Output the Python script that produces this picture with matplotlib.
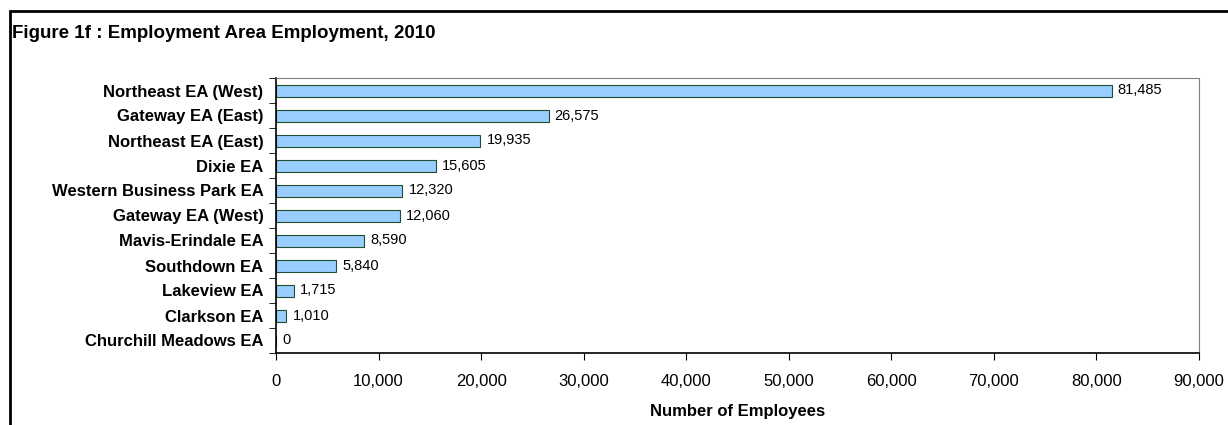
import matplotlib
matplotlib.use('Agg')
import matplotlib.pyplot as plt
from matplotlib.patches import Rectangle
from matplotlib.ticker import FuncFormatter

plt.rcParams['font.family'] = ['Liberation Sans', 'DejaVu Sans']

areas = ['Northeast EA (West)', 'Gateway EA (East)', 'Northeast EA (East)', 'Dixie EA',
         'Western Business Park EA', 'Gateway EA (West)', 'Mavis-Erindale EA', 'Southdown EA',
         'Lakeview EA', 'Clarkson EA', 'Churchill Meadows EA']
employees = [81485, 26575, 19935, 15605, 12320, 12060, 8590, 5840, 1715, 1010, 0]

fig = plt.figure(figsize=(12.28, 4.25), dpi=100)
# outer chart border (top and left visible)
fig.patches.append(Rectangle((10 / 1228, -0.1), 1.2, (425 - 11) / 425 + 0.1,
                             transform=fig.transFigure, fill=False, edgecolor='black', lw=2))
fig.text(12 / 1228, 1 - 34 / 425, 'Figure 1f : Employment Area Employment, 2010',
         fontsize=13.5, fontweight='bold', va='center', ha='left')

ax = fig.add_axes([276 / 1228, 1 - 353 / 425, (1199 - 276) / 1228, (353 - 78) / 425])
y = list(range(len(areas)))
ax.barh(y, employees, height=0.48, color='#99CCFF', edgecolor='#1F4F2F', linewidth=0.8)
for yi, v in zip(y, employees):
    ax.text(v + 600, yi, f'{v:,}', va='center', ha='left', fontsize=10.5)

ax.set_ylim(len(areas) - 0.5, -0.5)
ax.set_xlim(0, 90000)
ax.set_xticks(range(0, 90001, 10000))
ax.xaxis.set_major_formatter(FuncFormatter(lambda v, p: f'{int(v):,}'))
ax.set_yticks(y)
ax.set_yticklabels(areas, fontweight='bold', fontsize=12)
ax.set_yticks([i - 0.5 for i in range(len(areas) + 1)], minor=True)
ax.tick_params(axis='y', which='major', length=0, pad=9)
ax.tick_params(axis='y', which='minor', length=5, direction='out')
ax.tick_params(axis='x', length=5, direction='out', labelsize=12, pad=10)
ax.set_xlabel('Number of Employees', fontweight='bold', fontsize=12, labelpad=11)

for s in ['top', 'right']:
    ax.spines[s].set_color('#808080')
for s in ['left', 'bottom']:
    ax.spines[s].set_color('black')
    ax.spines[s].set_linewidth(1.2)

fig.savefig('out.png', dpi=100)
